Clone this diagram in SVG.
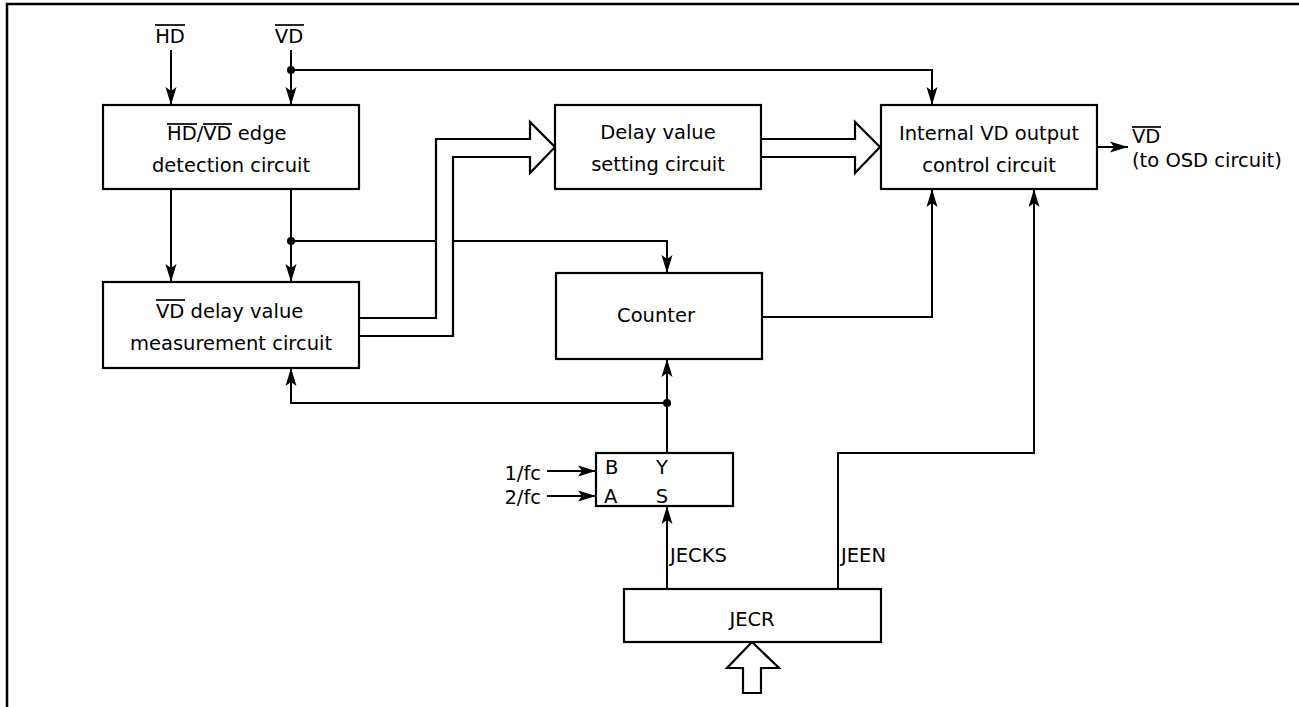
<svg xmlns="http://www.w3.org/2000/svg" width="1299" height="707" viewBox="0 0 1299 707">
<style>
.box{fill:#fff;stroke:#000;stroke-width:2.2}
.arr{fill:none;stroke:#000;stroke-width:2;marker-end:url(#ah)}
.hol{fill:#fff;stroke:#000;stroke-width:2.2;stroke-linejoin:miter}
.ob{stroke:#000;stroke-width:1.7}
text{font-family:"DejaVu Sans","Open Sans",sans-serif;font-size:19.5px;fill:#000}
.m{text-anchor:middle}
.e{text-anchor:end}
</style>
<defs>
<marker id="ah" markerUnits="userSpaceOnUse" viewBox="-19 -6 20 12" markerWidth="20" markerHeight="12" refX="0" refY="0" orient="auto">
<path d="M0,0 L-18,-5.5 L-14,0 L-18,5.5 Z" fill="#000"/>
</marker>
</defs>
<rect width="1299" height="707" fill="#fff"/>
<g id="frame"><path d="M7,707 V4 H1299" fill="none" stroke="#000" stroke-width="2.5"/></g>

<g id="connectors">
<line class="arr" x1="171" y1="50" x2="171" y2="105"/>
<line class="arr" x1="291" y1="50" x2="291" y2="105"/>
<path class="arr" d="M291,70 H932 V105"/>
<line class="arr" x1="171" y1="189" x2="171" y2="282"/>
<line class="arr" x1="291" y1="189" x2="291" y2="282"/>
<path class="arr" d="M291,241 H667 V273"/>
<line class="arr" x1="667" y1="453" x2="667" y2="359"/>
<path class="arr" d="M667,403 H291 V368"/>
<path class="arr" d="M762,317 H932 V189"/>
<path class="arr" d="M838,589 V453 H1034 V189"/>
<line class="arr" x1="667" y1="589" x2="667" y2="506"/>
<line class="arr" x1="1097" y1="147" x2="1128" y2="147"/>
<line class="arr" x1="547" y1="471" x2="596" y2="471"/>
<line class="arr" x1="547" y1="496" x2="596" y2="496"/>
<circle cx="291" cy="70" r="4"/>
<circle cx="291" cy="241" r="4"/>
<circle cx="667" cy="403" r="4"/>
<path class="hol" d="M359,318 H436 V139 H530 V122 L555,147 L530,173 V157 H453 V336 H359"/>
<path class="hol" d="M761,139 H855 V122 L880,147 L855,173 V157 H761"/>
<path class="hol" d="M752,642 L779,668 H761 V693 H743 V668 H727 Z"/>
</g>

<g id="label-hd">
<text class="m" x="170" y="43">HD</text>
<line class="ob" x1="155" y1="25" x2="185" y2="25"/>
</g>
<g id="label-vd">
<text class="m" x="289" y="43">VD</text>
<line class="ob" x1="275" y1="25" x2="304" y2="25"/>
</g>

<g id="edge-detection">
<rect class="box" x="103" y="105" width="256" height="84"/>
<text x="167" y="140">HD/VD edge</text>
<line class="ob" x1="167" y1="124" x2="197" y2="124"/>
<line class="ob" x1="203" y1="124" x2="232" y2="124"/>
<text class="m" x="231" y="172">detection circuit</text>
</g>

<g id="delay-setting">
<rect class="box" x="555" y="105" width="206" height="84"/>
<text class="m" x="658" y="139">Delay value</text>
<text class="m" x="658" y="171">setting circuit</text>
</g>

<g id="internal-vd">
<rect class="box" x="881" y="105" width="216" height="84"/>
<text class="m" x="989" y="140">Internal VD output</text>
<text class="m" x="989" y="172">control circuit</text>
</g>

<g id="label-vd-out">
<text x="1132" y="143">VD</text>
<line class="ob" x1="1132" y1="127" x2="1161" y2="127"/>
<text x="1132" y="167">(to OSD circuit)</text>
</g>

<g id="vd-delay-measure">
<rect class="box" x="103" y="282" width="256" height="86"/>
<text x="156" y="318">VD delay value</text>
<line class="ob" x1="156" y1="300" x2="185" y2="300"/>
<text class="m" x="231" y="350">measurement circuit</text>
</g>

<g id="counter">
<rect class="box" x="556" y="273" width="206" height="86"/>
<text class="m" x="656" y="322">Counter</text>
</g>

<g id="mux">
<rect class="box" x="596" y="453" width="137" height="53"/>
<text x="605" y="474">B</text>
<text class="m" x="662" y="474">Y</text>
<text x="604" y="503">A</text>
<text class="m" x="662" y="503">S</text>
</g>
<g id="label-1fc"><text class="e" x="541" y="480">1/fc</text></g>
<g id="label-2fc"><text class="e" x="541" y="504">2/fc</text></g>
<g id="label-jecks"><text x="670" y="562">JECKS</text></g>
<g id="label-jeen"><text x="841" y="562">JEEN</text></g>

<g id="jecr">
<rect class="box" x="624" y="589" width="257" height="53"/>
<text class="m" x="752" y="626">JECR</text>
</g>
</svg>
